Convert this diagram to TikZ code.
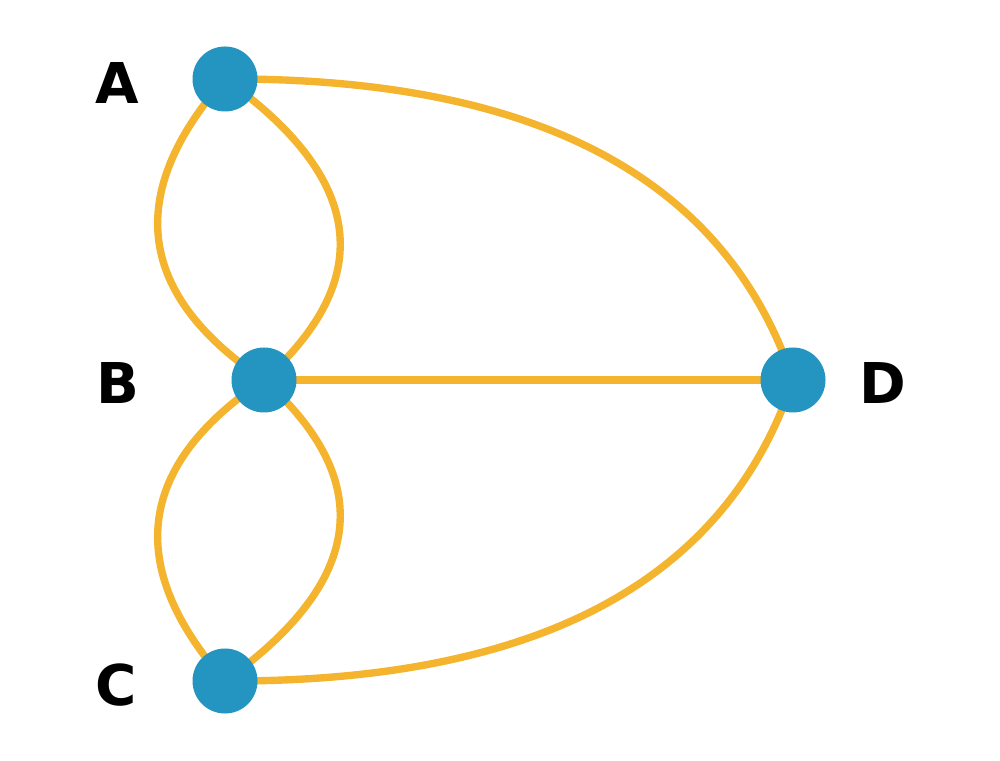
\documentclass[tikz,border=0pt]{standalone}
\usepackage{fontspec}
\setsansfont{DejaVu Sans}
\usepackage{tikz}
\usetikzlibrary{calc,backgrounds}
\definecolor{vblue}{RGB}{36,148,192}
\definecolor{bridge}{RGB}{245,180,46}

\begin{document}
\begin{tikzpicture}[font=\sffamily\bfseries\fontsize{16}{18}\selectfont,
  land/.style={circle, fill=vblue, minimum size=0.65cm, inner sep=0pt},
  lbl/.style={text=black},
  edge/.style={draw=bridge, line width=2.1pt}]
  \useasboundingbox (0,0) rectangle (10,7.6);
  % land masses
  \node[land] (A) at (2.25,6.81) {};
  \node[land] (B) at (2.64,3.80) {};
  \node[land] (C) at (2.25,0.79) {};
  \node[land] (D) at (7.93,3.80) {};
  \node[lbl] (la) at (1.17,6.77) {A};
  \node[lbl] (lb) at (1.18,3.77) {B};
  \node[lbl] (lc) at (1.16,0.75) {C};
  \node[lbl] (ld) at (8.83,3.77) {D};
  % bend points of the bridges
  \coordinate (qab1) at (0.73,5.08);
  \coordinate (qab2) at (4.34,5.32);
  \coordinate (qbc1) at (0.73,2.52);
  \coordinate (qbc2) at (4.34,2.28);
  \coordinate (qad) at (6.92,6.83);
  \coordinate (qcd) at (6.92,0.77);
  % bridges
  \begin{pgfonlayer}{background}
    \draw[edge] (A.center) .. controls ($(A)!2/3!(qab1)$) and ($(B)!2/3!(qab1)$) .. (B.center);
    \draw[edge] (A.center) .. controls ($(A)!2/3!(qab2)$) and ($(B)!2/3!(qab2)$) .. (B.center);
    \draw[edge] (B.center) .. controls ($(B)!2/3!(qbc1)$) and ($(C)!2/3!(qbc1)$) .. (C.center);
    \draw[edge] (B.center) .. controls ($(B)!2/3!(qbc2)$) and ($(C)!2/3!(qbc2)$) .. (C.center);
    \draw[edge] (B.center) -- (D.center);
    \draw[edge] (A.center) .. controls ($(A)!2/3!(qad)$) and ($(D)!2/3!(qad)$) .. (D.center);
    \draw[edge] (C.center) .. controls ($(C)!2/3!(qcd)$) and ($(D)!2/3!(qcd)$) .. (D.center);
  \end{pgfonlayer}
\end{tikzpicture}
\end{document}
